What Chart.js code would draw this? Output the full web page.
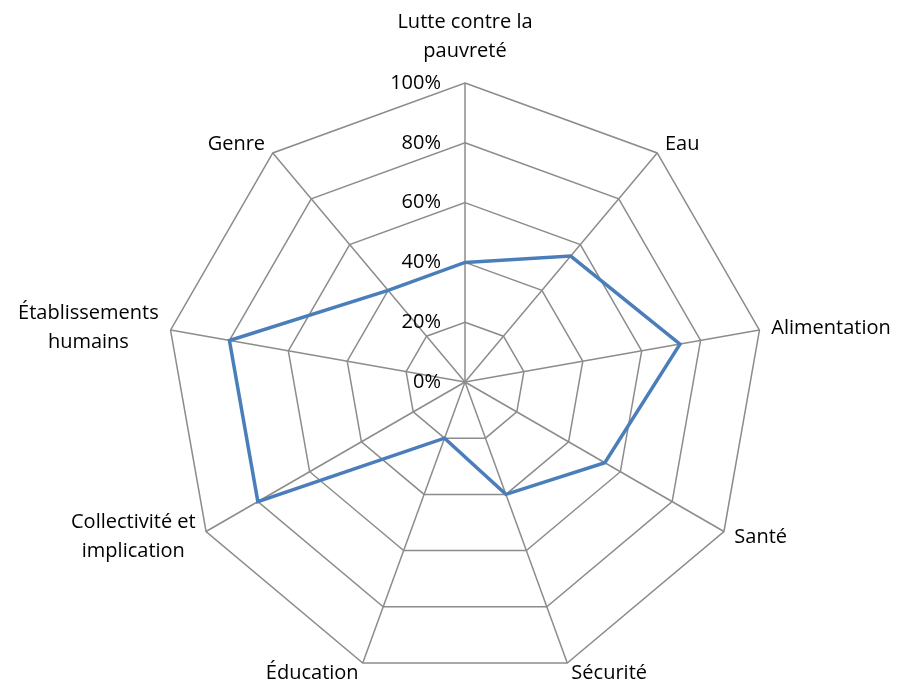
<!DOCTYPE html>
<html>
<head>
<meta charset="utf-8">
<script src="https://cdn.jsdelivr.net/npm/chart.js@4"></script>
<style>
  body { margin: 0; background: #fff; }
  canvas { display: block; }
</style>
</head>
<body>
<canvas id="radar" width="901" height="685"></canvas>
<script>
// catégories, dans le sens horaire depuis le haut
const categories = [
  ["Lutte contre la", "pauvreté"],
  "Eau",
  "Alimentation",
  "Santé",
  "Sécurité",
  "Éducation",
  ["Collectivité et", "implication"],
  ["Établissements", "humains"],
  "Genre"
];
const scores = [40, 55, 73, 54, 40, 20, 80, 80, 40];
const tickLabels = ["0%", "20%", "40%", "60%", "80%", "100%"];

const FONT = '20px "Open Sans"';
const LINE_H = 29;

// étiquettes dessinées à la manière d'Excel, depuis les positions du scale
const labelPlugin = {
  id: "excelLabels",
  afterDraw(chart) {
    const scale = chart.scales.r;
    const ctx = chart.ctx;
    const outer = scale.getDistanceFromCenterForValue(scale.max);
    ctx.save();
    ctx.font = FONT;
    ctx.fillStyle = "#000";
    ctx.textBaseline = "middle";

    // graduations
    ctx.textAlign = "right";
    scale.ticks.forEach((t, i) => {
      const d = scale.getDistanceFromCenterForValue(t.value);
      ctx.fillText(tickLabels[i], scale.xCenter - 24, scale.yCenter - d);
    });

    // catégories
    ctx.textAlign = "center";
    categories.forEach((lab, i) => {
      const lines = Array.isArray(lab) ? lab : [lab];
      const pos = scale.getPointPosition(i, outer);
      const cx = Math.cos(pos.angle);
      const sy = Math.sin(pos.angle);
      const w = Math.max(...lines.map(l => ctx.measureText(l).width));
      const h = lines.length * LINE_H;
      const edge = pos.x + 12 * cx;
      let bx;
      if (Math.abs(cx) < 0.05) bx = pos.x;
      else if (cx > 0) bx = edge + w / 2;
      else bx = edge - w / 2;
      let by = pos.y + 11 * sy;
      if (sy < -0.99) by = pos.y - 17 - h / 2;
      lines.forEach((l, k) => {
        ctx.fillText(l, bx, by + (k - (lines.length - 1) / 2) * LINE_H);
      });
    });
    ctx.restore();
  }
};

new Chart(document.getElementById("radar"), {
  type: "radar",
  data: {
    labels: categories,
    datasets: [
      {
        data: scores,
        borderColor: "#4a7ebb",
        borderWidth: 3.5,
        pointRadius: 0,
        fill: false,
        tension: 0
      }
    ]
  },
  options: {
    responsive: false,
    animation: false,
    layout: { padding: { left: 166, right: 137, top: 83, bottom: 4 } },
    plugins: {
      legend: { display: false },
      tooltip: { enabled: false }
    },
    scales: {
      r: {
        min: 0,
        max: 100,
        ticks: { stepSize: 20, display: false },
        pointLabels: { display: false },
        grid: { color: "#8c8c8c", lineWidth: 1.5 },
        angleLines: { color: "#8c8c8c", lineWidth: 1.5 }
      }
    }
  },
  plugins: [labelPlugin]
});
</script>
</body>
</html>
